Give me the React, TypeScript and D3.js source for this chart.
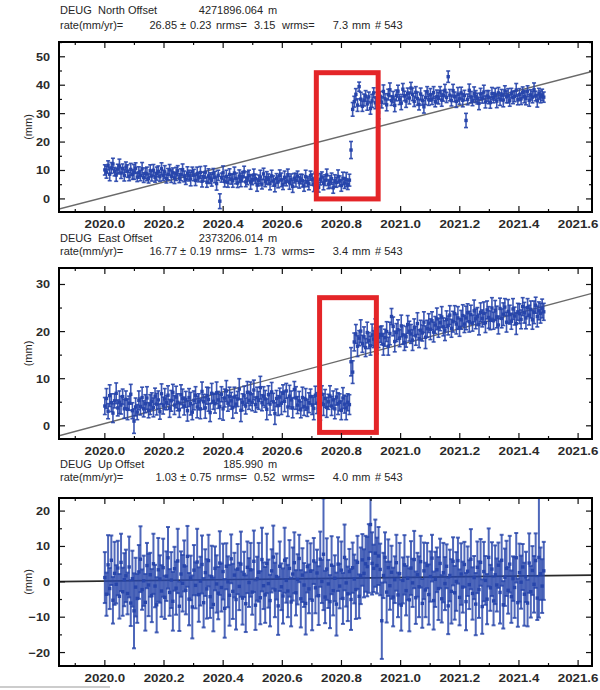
import * as d3 from "d3";

// header text of the three panels
const station = "DEUG";
const components = ["North", "East", "Up"];
const offsets = ["4271896.064", "2373206.014", "185.990"];
const rates = ["26.85", "16.77", "1.03"];
const rateErrs = ["0.23", "0.19", "0.75"];
const nrmsVals = ["3.15", "1.73", "0.52"];
const wrmsVals = ["7.3", "3.4", "4.0"];
const obsCount = "543";

// daily solutions, one value kept every 2 days from 2020.0
const firstEpoch = 2020.0;
const stepDays = 2;

const northMm = [
  10.2, 9.4, 11.8, 8.7, 10.9, 12.3, 9.6, 8.4, 10.5, 11.6,
  9.1, 10.7, 8.3, 11.2, 9.8, 7.9, 10.4, 8.6, 9.5, 10.8,
  7.7, 9.3, 8.2, 10.6, 7.5, 9.0, 8.8, 7.2, 9.9, 8.1,
  10.1, 7.6, 8.9, 9.7, 7.8, 10.6, 8.3, 9.5, 7.1, 8.7,
  10.2, 8.0, 9.2, 7.4, 8.8, 9.9, 7.3, 8.5, 10.3, 7.9,
  6.8, 9.1, 8.2, 7.0, 9.6, 8.4, 6.5, 8.9, 7.7, 9.3,
  6.2, 7.8, 9.4, 5.9, 8.1, 7.3, 6.6, 9.0, 7.7, 5.4,
  8.3, -0.8, 7.5, 9.2, 6.1, 7.9, 5.8, 8.6, 7.0, 6.4,
  9.1, 7.2, 5.6, 8.0, 6.7, 7.8, 9.5, 6.0, 7.3, 8.2,
  5.9, 6.8, 8.4, 7.1, 4.9, 6.5, 7.7, 5.2, 8.8, 6.1,
  7.4, 6.9, 5.5, 8.1, 6.3, 4.8, 7.2, 6.0, 8.3, 6.7,
  5.1, 7.6, 6.2, 8.5, 5.7, 6.9, 4.4, 7.3, 6.6, 8.0,
  5.8, 7.0, 6.4, 4.6, 7.8, 6.1, 5.3, 8.2, 6.8, 5.0,
  7.5, 6.2, 4.1, 6.9, 7.7, 5.5, 6.6, 8.4, 5.2, 6.0,
  7.1, 3.9, 6.4, 5.8, 7.9, 6.3, 4.7, 7.2, 5.6, 6.8,
  5.1, 6.6, 17.2, 31.5, 34.2, 36.8, 33.0, 39.5, 35.1, 32.6,
  34.8, 36.2, 33.4, 35.9, 31.8, 34.5, 37.3, 33.8, 35.6, 30.4,
  36.1, 34.0, 37.8, 35.2, 33.1, 36.7, 38.4, 34.6, 35.8, 32.9,
  36.4, 37.9, 35.0, 33.7, 38.6, 36.2, 34.4, 37.1, 35.5, 39.0,
  36.8, 34.3, 37.5, 35.3, 33.2, 36.9, 34.7, 32.4, 35.6, 37.7,
  34.9, 36.6, 35.1, 37.4, 34.2, 36.0, 35.4, 37.8, 34.8, 36.3,
  38.2, 35.7, 43.0, 36.5, 34.6, 38.1, 35.9, 34.3, 36.8, 35.2,
  37.3, 34.7, 36.4, 27.6, 35.0, 38.2, 35.8, 34.5, 37.1, 36.0,
  35.3, 33.6, 36.9, 35.5, 37.6, 34.1, 36.2, 35.8, 33.9, 37.0,
  35.6, 36.8, 34.4, 37.3, 35.1, 36.5, 34.8, 38.0, 35.9, 36.3,
  34.6, 37.2, 35.7, 36.1, 38.3, 34.9, 36.7, 35.2, 37.5, 36.0,
  35.4, 37.9, 34.7, 36.6, 35.8, 38.4, 36.2, 34.5, 37.0, 35.9,
  36.6, 35.8,
];

const eastMm = [
  4.2, 5.8, 3.1, 6.4, 4.9, 2.7, 5.3, 6.9, 3.8, 5.0,
  4.4, 6.2, 3.6, 5.6, 3.5, 4.8, 6.7, 3.2, 1.0, 4.0,
  2.9, 5.4, 4.1, 6.0, 3.6, 4.7, 5.9, 3.3, 4.5, 5.2,
  3.9, 6.3, 4.6, 5.5, 3.0, 6.8, 4.3, 5.7, 4.9, 6.5,
  3.7, 5.3, 7.1, 4.4, 6.1, 5.0, 3.4, 6.6, 5.8, 4.2,
  5.6, 3.2, 6.0, 4.7, 2.9, 5.4, 6.5, 4.0, 5.1, 3.6,
  7.3, 5.1, 3.8, 6.4, 5.6, 2.8, 6.9, 5.2, 4.7, 7.0,
  5.5, 4.1, 6.7, 3.6, 5.9, 7.4, 4.8, 6.2, 5.3, 3.9,
  6.1, 4.6, 5.7, 7.8, 3.3, 5.0, 6.4, 4.2, 7.1, 5.4,
  6.8, 5.0, 7.6, 4.5, 6.0, 5.4, 8.1, 4.9, 6.3, 5.7,
  3.5, 6.6, 4.6, 7.2, 5.1, 2.6, 5.8, 4.3, 6.1, 4.8,
  6.9, 5.2, 7.4, 4.0, 6.3, 5.5, 3.8, 7.7, 5.9, 4.4,
  5.3, 3.4, 6.0, 4.1, 5.6, 3.8, 4.9, 6.2, 4.4, 3.7,
  6.5, 4.8, 5.4, 3.2, 6.7, 4.5, 5.8, 3.9, 5.1, 6.3,
  4.2, 5.5, 3.6, 6.1, 4.7, 5.0, 3.3, 5.9, 4.6, 3.8,
  5.0, 4.5, 13.6, 11.4, 17.8, 19.5, 16.9, 18.6, 20.1, 17.4,
  18.9, 16.6, 19.8, 18.1, 17.0, 19.3, 18.4, 20.6, 17.2, 18.8,
  19.4, 19.2, 17.3, 18.7, 20.0, 16.9, 19.6, 23.2, 21.1, 17.9,
  19.8, 20.4, 18.6, 21.2, 19.3, 17.7, 18.9, 21.5, 20.1, 19.5,
  18.2, 20.9, 19.1, 21.7, 18.5, 20.3, 19.7, 22.0, 18.8, 20.6,
  21.8, 20.5, 22.3, 19.9, 21.4, 22.7, 20.8, 21.9, 23.1, 21.0,
  20.2, 22.6, 21.3, 23.5, 20.7, 22.1, 23.8, 21.6, 22.9, 20.9,
  22.5, 23.4, 21.6, 22.9, 24.0, 22.1, 23.6, 21.8, 24.4, 22.7,
  23.2, 21.5, 24.1, 22.8, 23.9, 21.9, 24.6, 23.0, 22.4, 25.0,
  22.3, 24.5, 23.1, 21.4, 24.9, 22.8, 23.7, 25.2, 22.0, 24.3,
  23.6, 22.2, 24.8, 23.3, 21.7, 24.2, 23.8, 22.6, 25.3, 24.0,
  22.9, 25.1, 23.5, 24.7, 22.5, 24.1, 25.6, 23.2, 24.4, 23.9,
  24.9, 24.2,
];

// formal sigma of the horizontal components (mm)
const horizSig = [
  1.8, 2.1, 1.6, 2.3, 1.9, 2.0, 1.5, 2.2, 1.7, 2.4,
  1.9, 1.6, 2.0, 1.8, 2.2, 1.5, 2.1, 1.7, 2.6, 1.9,
  1.6, 2.0, 1.8, 2.2, 1.7, 1.9, 2.4, 1.6, 2.1, 1.8,
  2.0, 1.7, 2.3, 1.9, 1.6, 2.1, 1.8, 2.2, 1.5, 2.0,
  1.9, 2.2, 1.7, 2.0, 2.3, 1.8, 1.6, 2.1, 2.0, 1.9,
  1.7, 2.2, 1.9, 2.4, 1.6, 2.0, 1.8, 2.3, 1.7, 2.1,
  2.0, 1.6, 2.2, 1.8, 2.5, 1.9, 2.1, 1.7, 2.0, 2.3,
  1.8, 2.6, 1.6, 2.4, 1.9, 2.2, 1.7, 2.0, 1.8, 2.3,
  2.1, 1.9, 1.6, 2.2, 2.4, 1.8, 2.0, 1.7, 2.3, 1.9,
  2.5, 1.8, 2.1, 1.6, 2.2, 1.9, 2.4, 1.7, 2.0, 1.8,
  2.2, 1.9, 2.3, 2.0, 1.8, 2.3, 1.7, 2.1, 1.9, 2.4,
  1.8, 2.2, 1.6, 2.0, 2.3, 1.9, 2.1, 1.7, 2.4, 1.8,
  2.0, 1.7, 2.2, 1.9, 2.3, 1.8, 2.1, 1.6, 2.0, 2.4,
  1.9, 2.2, 1.7, 2.0, 1.8, 2.3, 1.9, 2.1, 1.6, 2.2,
  2.0, 1.9, 2.1, 1.7, 2.3, 1.8, 2.0, 2.2, 1.9, 2.5,
  1.8, 2.1, 3.0, 2.4, 1.9, 2.0, 2.2, 1.6, 2.4, 1.8,
  2.1, 1.9, 2.2, 1.7, 2.0, 2.3, 1.8, 2.1, 1.9, 2.2,
  1.7, 2.0, 2.3, 1.8, 2.1, 1.9, 2.4, 1.7, 2.0, 2.2,
  1.9, 2.1, 1.8, 2.3, 2.0, 1.7, 2.2, 1.9, 2.1, 2.0,
  2.2, 1.8, 2.0, 2.3, 1.9, 2.1, 1.7, 2.2, 2.4, 1.8,
  2.0, 2.2, 1.9, 2.1, 1.8, 2.3, 2.0, 1.7, 2.2, 1.9,
  2.1, 1.8, 2.0, 2.0, 1.9, 2.2, 1.7, 2.1, 2.4, 1.9,
  2.0, 2.3, 1.8, 2.5, 1.9, 2.2, 2.0, 1.7, 2.3, 2.1,
  1.9, 2.2, 2.0, 1.8, 2.4, 2.1, 1.9, 2.3, 2.0, 2.2,
  1.8, 2.1, 2.3, 1.9, 2.2, 2.0, 2.4, 1.8, 2.1, 2.5,
  2.0, 1.7, 2.2, 1.9, 2.3, 1.8, 2.1, 2.0, 1.9, 2.2,
  2.3, 1.9, 2.1, 1.8, 2.0, 2.4, 1.7, 2.2, 1.9, 2.1,
  2.0, 1.8,
];

const upMm = [
  1.2, -3.5, 4.8, -1.9, 6.1, -5.2, 2.4, -0.7, 3.9, -4.1,
  5.5, -2.8, 0.6, 1.7, -3.3, 4.2, -6.0, 0.9, -8.2, -1.5,
  -4.7, 2.8, 6.4, -2.2, 0.3, -5.8, 4.6, -0.9, 2.0, -3.9,
  5.1, -1.2, -6.5, 3.4, 0.8, -2.6, 4.0, -4.4, 1.6, 6.8,
  -3.0, 0.5, -5.5, 3.7, -1.8, 5.9, -6.9, 2.2, -0.4, 4.5,
  -2.4, 7.2, -4.9, 1.1, -7.1, 3.3, -1.0, 5.6, -3.6, 0.2,
  4.9, -5.9, 2.6, -2.0, 6.0, -4.2, 1.4, -6.4, 3.8, -0.6,
  -3.2, 5.3, -1.6, 2.9, -7.5, 4.4, 0.0, -3.8, 6.5, -2.7,
  1.9, -5.0, 3.6, -1.3, 5.0, -4.6, 2.1, -6.2, 4.1, -0.2,
  3.4, -2.9, 5.8, -6.6, 0.9, 2.7, -4.5, 6.3, -1.1, -3.7,
  5.2, -0.5, -5.3, 3.1, 7.0, -2.3, 1.5, -6.8, 4.4, -1.4,
  -4.0, 6.1, 0.4, -2.6, 3.8, -5.7, 2.2, 5.4, -3.1, 0.7,
  6.6, -4.8, 1.9, -0.9, -6.1, 4.3, -2.0, 3.0, -5.2, 5.9,
  -1.7, 2.5, -3.9, 6.4, 0.1, 7.8, -4.3, 3.6, -0.6, -5.6,
  4.7, -2.5, 1.0, -6.3, 5.0, -1.2, 3.3, -4.7, 6.9, -0.3,
  -3.4, 2.9, -5.0, 4.0, 0.8, -2.2, 5.5, -4.1, 1.7, 6.2,
  2.4, 5.1, 4.3, 6.6, 16.2, 5.2, 3.8, 8.1, 4.6, 7.3,
  3.5, -11.0, 1.8, 6.9, -2.9, 4.0, -1.1, 2.7, -4.3, 0.6,
  5.4, -3.7, 2.3, -6.6, 0.4, 4.8, -2.5, 1.0, -5.1, 3.9,
  -0.3, 6.3, -4.5, 2.0, -1.4, 5.7, -6.1, 3.1, -2.3, 4.6,
  -3.6, 1.5, 6.7, -5.3, 0.7, 3.4, -1.9, 5.2, -4.8, 2.6,
  -0.5, 4.4, -6.8, 1.8, -2.7, 5.8, -3.1, 0.1, 6.0, -4.4,
  2.2, -1.5, 4.9, -5.6, 3.0, -0.8, 6.4, -3.3, 1.2, -6.3,
  4.1, -2.2, 5.5, -7.0, 2.9, 0.4, -4.9, 6.9, -1.7, 3.6,
  -5.4, 2.0, -0.9, 4.7, -3.0, 6.1, -6.5, 1.3, 3.8, -2.4,
  5.0, -4.2, 0.9, -1.6, 6.8, -5.9, 2.6, -0.1, 4.2, -3.5,
  1.4, -6.0, 5.3, -2.8, 3.2, -0.7, 6.0, -4.6, 6.9, 2.3,
  -1.2, 3.1,
];
const upSig = [
  7.2, 6.1, 8.4, 5.8, 7.0, 6.6, 8.9, 5.4, 7.7, 6.3,
  8.1, 6.8, 7.5, 7.4, 5.9, 8.6, 6.5, 7.9, 10.6, 8.3,
  6.9, 7.6, 9.3, 5.7, 7.1, 8.0, 6.4, 8.8, 6.2, 7.5,
  8.5, 6.0, 7.8, 9.0, 6.7, 7.3, 8.2, 6.1, 7.0, 8.7,
  6.6, 7.9, 8.3, 6.2, 7.5, 9.1, 7.0, 6.4, 8.0, 7.2,
  6.8, 8.6, 7.4, 6.3, 8.9, 7.1, 6.5, 9.4, 7.7, 6.9,
  8.2, 7.0, 6.6, 8.4, 7.3, 6.0, 8.8, 7.6, 6.2, 8.1,
  7.4, 9.0, 6.8, 7.9, 8.3, 6.5, 7.2, 8.6, 6.9, 7.8,
  6.3, 8.5, 7.1, 6.7, 9.2, 7.5, 6.4, 8.0, 7.3, 6.9,
  7.6, 6.4, 8.7, 7.0, 6.2, 8.3, 7.5, 9.0, 6.6, 7.9,
  8.4, 6.8, 7.3, 6.1, 8.9, 7.7, 6.5, 8.2, 7.0, 6.6,
  7.8, 9.2, 6.3, 7.4, 8.0, 6.9, 7.5, 8.6, 6.4, 7.1,
  6.7, 8.1, 7.6, 6.2, 8.8, 7.3, 6.9, 7.9, 8.5, 6.5,
  7.2, 6.6, 8.3, 7.8, 6.1, 15.8, 7.4, 8.7, 6.8, 7.5,
  8.2, 7.0, 6.5, 8.9, 7.6, 6.3, 8.1, 7.2, 9.3, 6.7,
  7.7, 6.4, 8.6, 7.1, 6.9, 8.3, 7.5, 6.2, 8.0, 7.3,
  6.8, 7.9, 8.4, 9.7, 7.8, 8.8, 6.7, 9.5, 7.9, 8.2,
  7.3, 10.8, 6.4, 7.1, 8.6, 8.0, 6.8, 7.5, 8.3, 6.6,
  7.9, 6.3, 8.7, 7.2, 6.5, 8.4, 7.0, 6.1, 8.9, 7.6,
  6.8, 8.1, 7.4, 6.2, 8.6, 7.3, 6.9, 8.0, 7.7, 6.4,
  8.5, 7.1, 6.6, 8.2, 7.8, 6.3, 8.9, 7.0, 6.7, 8.4,
  7.5, 6.2, 8.0, 7.3, 9.1, 6.8, 7.6, 8.3, 6.5, 7.9,
  8.7, 7.2, 6.4, 8.1, 7.0, 6.9, 8.5, 7.4, 6.1, 8.8,
  7.3, 8.0, 6.6, 7.7, 8.4, 6.9, 7.1, 8.2, 6.5, 7.6,
  6.9, 8.3, 7.5, 6.4, 8.8, 7.2, 6.7, 8.1, 7.8, 6.6,
  8.0, 7.4, 6.3, 8.6, 7.0, 6.8, 8.2, 7.5, 6.5, 8.9,
  7.1, 6.6, 8.4, 7.3, 6.9, 8.0, 7.7, 6.2, 17.0, 7.4,
  7.6, 8.2,
];

// fitted trend: value at 2020.0 (mm) and rate (mm/yr)
const trendAt2020 = [0.6, 0.5, 0.2];
const trendRate = [26.85, 16.77, 1.03];

// axes
const xDomain = [2019.845, 2021.647];
const xTickValues = [2020.0, 2020.2, 2020.4, 2020.6, 2020.8, 2021.0, 2021.2, 2021.4, 2021.6];
const northTicks = [0, 10, 20, 30, 40, 50];
const eastTicks = [0, 10, 20, 30];
const upTicks = [-20, -10, 0, 10, 20];

// red highlight boxes [t0, t1, mmLow, mmHigh]
const northBox = [2020.715, 2020.924, 0.0, 44.4];
const eastBox = [2020.726, 2020.918, -1.4, 27.2];

const W = 600;
const H = 690;
const left = 59;
const right = 592;
const blue = "#2745ab";
const font = "'Liberation Sans', Arial, sans-serif";

const panels = [
  { top: 42, bottom: 212, yDomain: [-4.6, 55.2], ticks: northTicks, vals: northMm, sig: horizSig, box: northBox, h1: 14, h2: 29 },
  { top: 268, bottom: 439, yDomain: [-2.8, 33.5], ticks: eastTicks, vals: eastMm, sig: horizSig, box: eastBox, h1: 242, h2: 255 },
  { top: 498, bottom: 666, yDomain: [-23.8, 23.7], ticks: upTicks, vals: upMm, sig: upSig, box: null, h1: 468, h2: 481 },
];

function Txt({ x, y, children, anchor = "start", size = 11, weight = "normal", fill = "#262626", sx = 1 }) {
  return (
    <text
      transform={`translate(${x},${y}) scale(${sx},1)`}
      textAnchor={anchor}
      fontSize={size}
      fontWeight={weight}
      fill={fill}
      fontFamily={font}
    >
      {children}
    </text>
  );
}

function Panel({ p, k }) {
  const x = d3.scaleLinear().domain(xDomain).range([left, right]);
  const y = d3.scaleLinear().domain(p.yDomain).range([p.bottom, p.top]);
  const epochs = p.vals.map((_, i) => firstEpoch + (i * stepDays) / 365.25);
  const xMinor = d3.range(0, 18).map((j) => 2019.9 + j * 0.1);
  const yMinor = d3.range(Math.ceil(p.yDomain[0] / 5) * 5, p.yDomain[1], 5);
  const trend = d3
    .line<number>()
    .x((t) => x(t))
    .y((t) => y(trendAt2020[k] + trendRate[k] * (t - 2020)));
  const clipId = `clip${k}`;
  const isUp = k === 2;
  const cap = 2.0;

  return (
    <g>
      <defs>
        <clipPath id={clipId}>
          <rect x={left} y={p.top} width={right - left} height={p.bottom - p.top} />
        </clipPath>
      </defs>

      {/* header */}
      <Txt x={60} y={p.h1}>{station}</Txt>
      <Txt x={98} y={p.h1}>{components[k] + " Offset"}</Txt>
      <Txt x={263} y={p.h1} anchor="end">{offsets[k]}</Txt>
      <Txt x={268} y={p.h1}>m</Txt>
      <Txt x={60} y={p.h2}>rate(mm/yr)=</Txt>
      <Txt x={177} y={p.h2} anchor="end">{rates[k]}</Txt>
      <Txt x={180} y={p.h2}>±</Txt>
      <Txt x={190} y={p.h2}>{rateErrs[k]}</Txt>
      <Txt x={216} y={p.h2}>nrms=</Txt>
      <Txt x={254} y={p.h2}>{nrmsVals[k]}</Txt>
      <Txt x={282} y={p.h2}>wrms=</Txt>
      <Txt x={348} y={p.h2} anchor="end">{wrmsVals[k]}</Txt>
      <Txt x={352} y={p.h2}>mm</Txt>
      <Txt x={375} y={p.h2}># {obsCount}</Txt>

      <g clipPath={`url(#${clipId})`}>
        <path
          d={trend([xDomain[0], xDomain[1]]) ?? ""}
          fill="none"
          stroke={isUp ? "#2a2a2a" : "#6a6a6a"}
          strokeWidth={isUp ? 1.7 : 1.4}
        />
        <g stroke={blue} strokeWidth={isUp ? 2.0 : 1.6} strokeOpacity={isUp ? 0.82 : 0.9}>
          {p.vals.map((v, i) => {
            const cx = x(epochs[i]);
            const y0 = y(v - p.sig[i]);
            const y1 = y(v + p.sig[i]);
            return (
              <g key={i}>
                <line x1={cx} x2={cx} y1={y0} y2={y1} />
                <line x1={cx - cap} x2={cx + cap} y1={y0} y2={y0} />
                <line x1={cx - cap} x2={cx + cap} y1={y1} y2={y1} />
              </g>
            );
          })}
        </g>
        <g fill={blue}>
          {p.vals.map((v, i) => (
            <rect key={i} x={x(epochs[i]) - 1.7} y={y(v) - 1.7} width={3.4} height={3.4} />
          ))}
        </g>
      </g>

      {p.box && (
        <rect
          x={x(p.box[0])}
          y={y(p.box[3])}
          width={x(p.box[1]) - x(p.box[0])}
          height={y(p.box[2]) - y(p.box[3])}
          fill="none"
          stroke="#e42528"
          strokeWidth={5}
        />
      )}

      {/* ticks on all four sides, pointing in */}
      <g stroke="#111" strokeWidth={1.2}>
        {xMinor.map((t) => {
          const major = xTickValues.some((m) => Math.abs(m - t) < 1e-6);
          const len = major ? 6 : 3;
          return (
            <g key={t}>
              <line x1={x(t)} x2={x(t)} y1={p.bottom} y2={p.bottom - len} />
              <line x1={x(t)} x2={x(t)} y1={p.top} y2={p.top + len} />
            </g>
          );
        })}
        {yMinor.map((v) => {
          const major = p.ticks.includes(v);
          const len = major ? 6 : 3;
          return (
            <g key={v}>
              <line x1={left} x2={left + len} y1={y(v)} y2={y(v)} />
              <line x1={right} x2={right - len} y1={y(v)} y2={y(v)} />
            </g>
          );
        })}
      </g>
      <rect x={left} y={p.top} width={right - left} height={p.bottom - p.top} fill="none" stroke="#000" strokeWidth={2} />

      {xTickValues.map((t) => (
        <Txt key={t} x={x(t)} y={p.bottom + 16} anchor="middle" size={11.5} weight="bold" fill="#2a2a2a" sx={1.16}>
          {t.toFixed(1)}
        </Txt>
      ))}
      {p.ticks.map((v) => (
        <Txt key={v} x={50} y={y(v) + 4} anchor="end" size={11.5} weight="bold" fill="#2a2a2a" sx={1.1}>
          {v < 0 ? "\u2212" + Math.abs(v) : String(v)}
        </Txt>
      ))}
      <text
        transform={`translate(32,${(p.top + p.bottom) / 2}) rotate(-90)`}
        textAnchor="middle"
        fontSize={11}
        fill="#222"
        fontFamily={font}
      >
        (mm)
      </text>
    </g>
  );
}

export default function App() {
  return (
    <svg width={W} height={H} style={{ position: "absolute", left: 0, top: 0, background: "#fff" }}>
      <rect width={W} height={H} fill="#fff" />
      {panels.map((p, k) => (
        <Panel key={k} p={p} k={k} />
      ))}
      <line x1={0} x2={110} y1={687} y2={687} stroke="#bbb" strokeWidth={1.5} />
    </svg>
  );
}
